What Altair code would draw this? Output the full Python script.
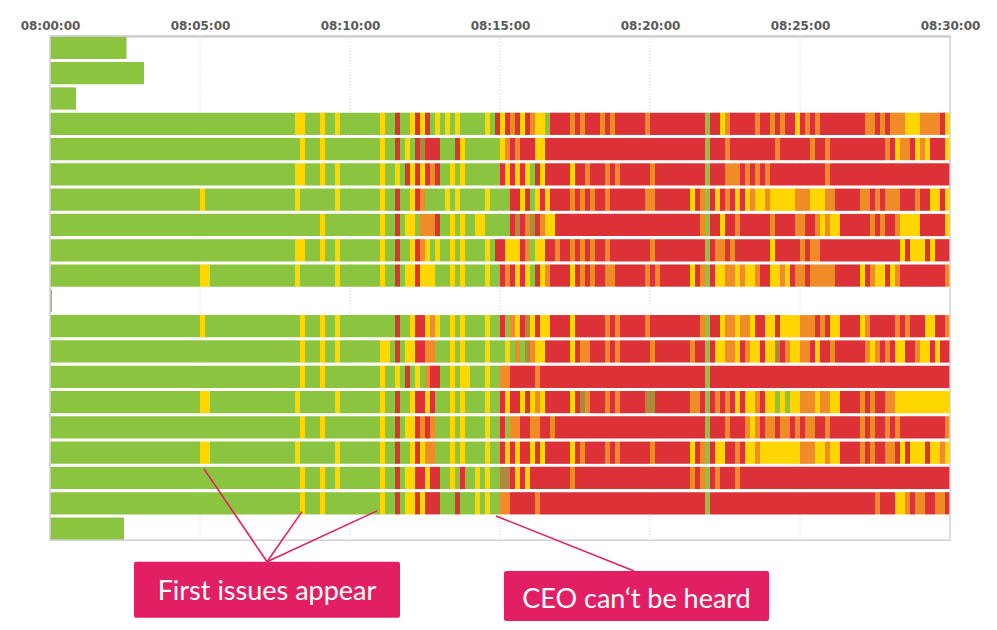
import altair as alt
import pandas as pd

# ---------------- data ----------------
# state colours: G = good (green), Y = minor (yellow), O = degraded (orange),
# R = bad (red), B = mixed/brownish
STATE_CODES = ["G", "Y", "O", "R", "B"]
STATE_COLORS = ["#8BC43F", "#FFD600", "#F08C28", "#DC3237", "#B08A3C"]

CELL_SECONDS = 10          # each character in a row string = 10 seconds
TICK_SECONDS = [0, 300, 600, 900, 1200, 1500, 1800]   # 08:00:00 ... 08:30:00
GRID_SECONDS = [300, 600, 900, 1200, 1500]

# short rows (all green): row index -> duration in seconds
SHORT_ROW_INDEX = [0, 1, 2, 10, 19]
SHORT_ROW_SECONDS = [153, 188, 52, 4, 148]

# long rows, one 10-second cell per character, grouped per minute
LONG_ROW_INDEX = [3, 4, 5, 6, 7, 8, 9, 11, 12, 13, 14, 15, 16, 17, 18]
LONG_ROWS = [
    "GGGGGG GGGGGG GGGGGG GGGGGG GGGGGG GGGGGG GGGGGG GGGGGG GYYGGG YGGYGG GGGGGG YGGRGG YRYRGY GYGYGG GGGYGR YRORYR OYYGRR RROROR RROROR RRRRRO RRRRRR RRRRRG RRYORR RRRORR ORORRY RORORR RRRRRR ROOROR OOOYYY OOOORY",
    "GGGGGG GGGGGG GGGGGG GGGGGG GGGGGG GGGGGG GGGGGG GGGGGG GGYGGG YGGGGG GGGGGG YGGRGY GRBRRR GGGRYG GGGGGG YORORR RYYRRR RRRRRR RRRRRR RRRRRR RRRRRR RRRRRG RRRORR RRRRRR RORRRR RRORRO RRRRRR RRRRRO RYOORY OYRRRY",
    "GGGGGG GGGGGG GGGGGG GGGGGG GGGGGG GGGGGG GGGGGG GGGGGG GYYGGG YGGYGG GGGGGG YGGYGR YRYROR GGYGYG GGGGGG RYRYRY GRYRRR RRYRRO RRRORO RRRRRR ORRRRR RRRRRG RRROOO RORORO RRRRRR RRRRRO RRRRRR RRRRRR RRRRRR RRRRRR",
    "GGGGGG GGGGGG GGGGGG GGGGGG GGGGGG YGGGGG GGGGGG GGGGGG GYGGGG GGGYGG GGGGGG YGGRGG YROGGG GYGYGG GGGYGG GGRRYR GYRYRR RROROR ORRORR RRRRRO ORRRRR RRYROG RYRORY RYOYYO YYYYYO OOYYYO ORRRRR OORORO OORRRO RRYYRY",
    "GGGGGG GGGGGG GGGGGG GGGGGG GGGGGG GGGGGG GGGGGG GGGGGG GGGGGG YGGGGG GGGGGG YGGRGY YGOOOR GGYGYG GYYGGG GGRBRO BROYYR RRRRRR RRRRRR RRRRRR RRRRRR RRRROG RRYRRO RRRRRR ORRRRO ORROYO YYRRRR RROROR ROYYYY RRRRRY",
    "GGGGGG GGGGGG GGGGGG GGGGGG GGGGGG GGGGGG GGGGGG GGGGGG GYYGGG YGGYGG GGGGGG YGGRGG YROYGY GGYGYG GGGYGR RYYYRO GYYRRO RROROR ORRORR RRRRRR ORRRRR RRRRRG ROOROR RRRRRR YRRRRR OROORR RRRRRR RRRRRR RRYRYY YRYRRR",
    "GGGGGG GGGGGG GGGGGG GGGGGG GGGGGG YYGGGG GGGGGG GGGGGG GYGGGG GGGYGG GGGGGG YGGRGY YRYYYG GGYGYG GGGYGG RORYRY GRYORR RRYROR ORROOR RRRRRO RORRRR RRYROG RYYOOY OYYORR YYOYRO OROOOO ORRRRR YROYYR YORRRR RRRRRO",
    "GGGGGG GGGGGG GGGGGG GGGGGG GGGGGG YGGGGG GGGGGG GGGGGG GGYGGG YGGYGG GGGGGG GGGRGG YRRYOY GGYGYG GGGYGG RGOYRB YRYYRR RRYRRR RRRORO RRRRRO RRRRRR RRRROG RRYOOY OOYRRY YRYYYY OOOROR YYRRRR YORRRR RORORR RYYRRO",
    "GGGGGG GGGGGG GGGGGG GGGGGG GGGGGG GGGGGG GGGGGG GGGGGG GGYGGG YGGYGG GGGGGG YYGRGY YRROOG GGYGYG GGGYGG GYGOGB OYYRRR RRYROO RRRORO RRRRRR ORRRRR RRORRG RYYOOY ROYYRY YBROYY OORYRR ORRRRR ROYORO RYYRRO YYRYRR",
    "GGGGGG GGGGGG GGGGGG GGGGGG GGGGGG GGGGGG GGGGGG GGGGGG GGYGGG YGGGGG GGGGGG YGGYGR GYGORR GGYGYY GGGYGG OORRRR RORRRR RRRRRR RRRRRR RRRRRR RRRRRR RRRRRG RRRRRR RRRRRR RRRRRR RRRRRR RRRRRR RRRRRR RRRRRR RRRRRR",
    "GGGGGG GGGGGG GGGGGG GGGGGG GGGGGG YYGGGG GGGGGG GGGGGG GYGGGG GGGYGG GGGGGG YGGRGG YRRYRG GGYGYG GGGYGG RYRRYR YOYRRR RRYRBO RRRORO RRRRRB BRRRRR RROORG RORORY RYYORY YGYGYY OOOYOO YYRRRR ORORRO OYYYYY YYYYYY",
    "GGGGGG GGGGGG GGGGGG GGGGGG GGGGGG GGGGGG GGGGGG GGGGGG GGYGGG YGGGGG GGGGGG YGGRGY YROROG GGYGYG GGGYGG RGOORR OORROR RRRRRR RRRRRR RRRRRR RRRRRR RRRRRG RRRORR ROYORO OROORO ROORRO RRRRRR ORORRO RORRRR RRRRRO",
    "GGGGGG GGGGGG GGGGGG GGGGGG GGGGGG YYGGGG GGGGGG GGGGGG GYGGGG GGGYGG GGGGGG YGGRGG YRYOOG GGYGYG GGGYGG RYRYRR YRYRRR RRYROR RRRORO RRRRRR ORRRRR RRYROG RYYRRO RYYOYY YYYYYY OOOYYO YYRRRR ORORRO ORYRYY YRYYOY",
    "GGGGGG GGGGGG GGGGGG GGGGGG GGGGGG GGGGGG GGGGGG GGGGGG GGYGGG YGGYGG GGGGGG YGGRGY YRRYRR GGYGRG GYGYGG BBRYRY RRRRRR RRORRR RRRRRR RRRRRR RRRRRR RROROG RORRRO RRRRRR RRRRRR RRRRRR RRRRRR RRRRRR RRRRRR RRRRRR",
    "GGGGGG GGGGGG GGGGGG GGGGGG GGGGGG GGGGGG GGGGGG GGGGGG GGYGGG YGGGGG GGGGGG YGGRGY YRYRRR GGGRGG GYGYGG OORRRR RORRRR RRRRRR RRRRRR RRRRRR RRRRRR RRRRRG RRRRRR RRRRRR RRRRRR RRRRRR RRRRRR RRRORR RYYORO ORROOR",
]

ANNOTATION_TEXT = ["First issues appear", "CEO can\u2018t be heard"]

# ---------------- layout constants ----------------
PLOT_W = 900
PLOT_H = 586
ROW_PITCH_PX = 25.3
Y_MAX = PLOT_H / ROW_PITCH_PX           # y domain in "row" units
FRAME_BOTTOM = 19.93                    # bottom edge of the timeline frame
PINK = "#E31F64"

# ---------------- build tables ----------------
records = []
for idx, dur in zip(SHORT_ROW_INDEX, SHORT_ROW_SECONDS):
    records.append({"row": idx, "start": 0, "end": dur, "state": "G"})
for idx, s in zip(LONG_ROW_INDEX, LONG_ROWS):
    s = s.replace(" ", "")
    i = 0
    while i < len(s):
        j = i
        while j < len(s) and s[j] == s[i]:
            j += 1
        records.append({"row": idx, "start": i * CELL_SECONDS,
                        "end": j * CELL_SECONDS, "state": s[i]})
        i = j
seg = pd.DataFrame(records)
seg["top"] = seg["row"] + 0.03
seg["bottom"] = seg["row"] + 0.91

grid = pd.DataFrame({"x": GRID_SECONDS, "y": 0.0, "y2": FRAME_BOTTOM})
frame = pd.DataFrame({"x": [0], "x2": [1800], "y": [0.0], "y2": [FRAME_BOTTOM]})

ann_lines = pd.DataFrame({
    "x": [434, 434, 434, 1168],
    "y": [20.78, 20.78, 20.78, 21.15],
    "x2": [308, 504, 654, 892],
    "y2": [17.11, 18.80, 18.77, 18.97],
})
ann_boxes = pd.DataFrame({
    "x": [168, 908], "x2": [700, 1438],
    "y": [20.78, 21.15], "y2": [22.99, 23.12],
})
ann_text = pd.DataFrame({
    "x": [434, 1173], "y": [22.31, 22.62], "text": ANNOTATION_TEXT,
})

# ---------------- scales ----------------
xscale = alt.Scale(domain=[0, 1800], nice=False, zero=False)
yscale = alt.Scale(domain=[0, Y_MAX], nice=False, zero=False, reverse=True)

label_expr = "'08:' + (datum.value < 600 ? '0' : '') + (datum.value / 60) + ':00'"
x_axis = alt.Axis(orient="top", values=TICK_SECONDS, labelExpr=label_expr,
                  ticks=False, grid=False, domainColor="#bdbdbd", domainWidth=2,
                  labelFont="DejaVu Sans", labelFontWeight="bold", labelFontSize=12,
                  labelColor="#5a5a5a", labelPadding=4, labelFlush=False,
                  labelOverlap=False, title=None)


def xenc(field):
    return alt.X(field, scale=xscale, axis=x_axis, title=None)


def yenc(field):
    return alt.Y(field, scale=yscale, axis=None, title=None)


grid_layer = alt.Chart(grid).mark_rule(color="#d0d0d0", strokeDash=[1, 2], strokeWidth=1).encode(
    x=xenc("x:Q"), y=yenc("y:Q"), y2="y2:Q",
)

bars = alt.Chart(seg).mark_rect(strokeWidth=0).encode(
    x=xenc("start:Q"), x2="end:Q",
    y=yenc("top:Q"), y2="bottom:Q",
    color=alt.Color("state:N", scale=alt.Scale(domain=STATE_CODES, range=STATE_COLORS), legend=None),
)

frame_layer = alt.Chart(frame).mark_rect(fillOpacity=0, stroke="#d2d2d2", strokeWidth=1.5).encode(
    x=xenc("x:Q"), x2="x2:Q", y=yenc("y:Q"), y2="y2:Q",
)

lines_layer = alt.Chart(ann_lines).mark_rule(color=PINK, strokeWidth=1.6).encode(
    x=xenc("x:Q"), x2="x2:Q", y=yenc("y:Q"), y2="y2:Q",
)

boxes_layer = alt.Chart(ann_boxes).mark_rect(color=PINK, cornerRadius=2).encode(
    x=xenc("x:Q"), x2="x2:Q", y=yenc("y:Q"), y2="y2:Q",
)

text_layer = alt.Chart(ann_text).mark_text(color="white", font="Lato", fontSize=27,
                                           align="center", baseline="alphabetic").encode(
    x=xenc("x:Q"), y=yenc("y:Q"), text="text:N",
)

chart = alt.layer(grid_layer, bars, frame_layer, lines_layer, boxes_layer, text_layer).properties(
    width=PLOT_W,
    height=PLOT_H,
    autosize=alt.AutoSizeParams(type="none"),
    padding={"left": 42, "top": 28, "right": 38, "bottom": 0},
    background="white",
).configure_view(strokeWidth=0)

chart.save("out.html", embed_options={"renderer": "svg", "actions": False})
